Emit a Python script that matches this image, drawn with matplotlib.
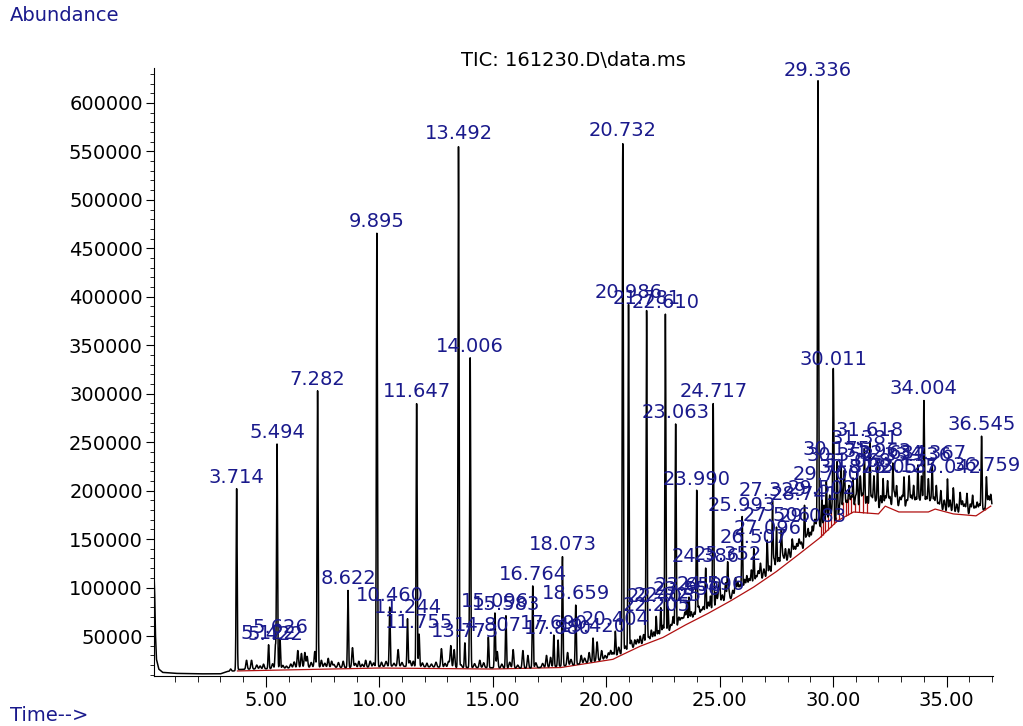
import numpy as np
import matplotlib.pyplot as plt
from matplotlib.ticker import MultipleLocator, FormatStrFormatter

# background level of the TIC trace (min, abundance)
bg_t = [0.07, 0.10, 0.13, 0.18, 0.28, 0.45, 1.0, 2.0, 3.0, 3.3, 3.6, 3.8, 4.5,
        5.5, 6.5, 7.5, 8.5, 9.5, 10.5, 11.5, 12.5, 13.5, 14.5, 15.5, 16.5,
        17.5, 18.5, 19.5, 20.2, 20.8, 21.3, 22.0, 22.5, 23.0, 23.5, 24.0,
        24.5, 25.0, 25.5, 26.0, 26.5, 27.0, 27.5, 28.0, 28.5, 29.0, 29.5,
        30.0, 30.5, 31.0, 31.5, 32.0, 32.5, 33.0, 33.5, 34.0, 34.5, 35.0,
        35.5, 36.0, 36.4, 36.7, 37.0]
bg_a = [116000, 95000, 55000, 26000, 16000, 12500, 11500, 11000, 11000, 13500,
        14000, 15500, 16000, 16500, 17500, 18000, 17500, 18000, 19000, 18500,
        18000, 17500, 17500, 17000, 17000, 18000, 20000, 24000, 27000, 33000,
        39000, 44000, 50000, 57000, 63000, 69000, 75000, 82000, 88000, 95000,
        102000, 110000, 118000, 127000, 136000, 145000, 156000, 167000,
        178000, 183000, 183000, 180000, 184000, 182000, 181000, 181000,
        179000, 178000, 176000, 174000, 175000, 182000, 183000]

# labelled peaks: retention time (min) and apex abundance
peak_rt = [3.714, 5.122, 5.422, 5.494, 5.626, 7.282, 8.622, 9.895, 10.460,
           11.244, 11.647, 11.755, 13.492, 13.773, 14.006, 14.807, 15.096,
           15.583, 16.764, 17.690, 17.880, 18.073, 18.659, 19.420, 20.404,
           20.732, 20.986, 21.781, 22.205, 22.405, 22.610, 22.725, 23.063,
           23.556, 23.650, 23.990, 24.386, 24.596, 24.717, 25.352, 25.993,
           26.507, 27.096, 27.329, 27.506, 28.741, 29.083, 29.336, 29.502,
           29.700, 30.011, 30.175, 30.352, 30.878, 31.068, 31.381, 31.618,
           31.963, 32.205, 32.634, 33.127, 33.736, 34.004, 34.367, 35.042,
           36.545, 36.759]
peak_h = [202000, 41000, 40000, 248000, 47000, 303000, 97000, 466000, 80000,
          68000, 290000, 52000, 557000, 43000, 337000, 49000, 74000,
          71000, 102000, 51000, 46000, 132000, 82000, 48000, 55000,
          560000, 392000, 386000, 70000, 79000, 382000, 80000, 269000,
          86000, 90000, 200000, 120000, 91000, 290000, 122000, 173000,
          140000, 149000, 188000, 162000, 184000, 161000, 622000, 190000,
          205000, 323000, 230000, 224000, 212000, 218000, 242000, 250000,
          228000, 212000, 226000, 213000, 224000, 293000, 226000, 212000,
          256000, 214000]

# small unlabelled peaks (apex abundance)
minor_rt = [3.45, 4.15, 4.37, 4.9, 5.91, 6.41, 6.57, 6.72, 6.82, 7.16, 7.45,
            7.75, 7.9, 8.41, 8.82, 9.1, 9.4, 10.1, 10.83, 11.5, 12.1, 12.74,
            13.15, 13.30, 14.43, 15.2, 15.9, 16.33, 16.55, 17.37, 17.55,
            18.3, 18.9, 19.25, 19.6, 19.8, 20.2, 21.26, 21.5, 21.99, 22.95,
            23.38, 24.19, 24.85, 25.0, 25.26, 25.7, 26.2, 26.4, 26.8, 27.72,
            27.9, 28.2, 28.4, 28.9, 29.2, 29.6, 29.85, 30.5, 30.7, 31.2,
            31.8, 32.4, 32.8, 33.35, 33.55, 33.9, 34.2, 34.55, 34.75, 35.3,
            35.6, 35.9, 36.15, 36.95]
minor_h = [16000, 25000, 25000, 21000, 19000, 35000, 32000, 33000, 29000,
           34000, 25000, 27000, 24000, 24000, 38000, 24000, 25000, 23000,
           36000, 24000, 22000, 37000, 40000, 36000, 25000, 34000, 36000,
           35000, 30000, 30000, 28000, 33000, 30000, 33000, 44000, 35000,
           35000, 46000, 50000, 56000, 70000, 68000, 77000, 95000, 101000,
           105000, 110000, 112000, 118000, 125000, 159000, 140000, 150000,
           145000, 160000, 165000, 185000, 195000, 215000, 205000, 215000,
           215000, 210000, 205000, 215000, 205000, 215000, 212000, 205000,
           200000, 203000, 198000, 197000, 195000, 196000]

# noise wiggles: time (min) and rise above the background
ripple_rt = [4.6, 4.75, 5.3, 5.75, 6.1, 6.25, 7.0, 7.6, 8.0, 8.2, 8.95, 9.25,
             9.6, 9.75, 10.3, 10.65, 11.0, 11.35, 11.9, 12.3, 12.5, 12.9,
             13.05, 13.6, 14.2, 14.6, 15.4, 15.75, 16.1, 16.9, 17.2, 18.45,
             19.05, 19.95, 20.1, 20.3, 20.55, 20.85, 21.1, 21.38, 21.65,
             21.88, 22.1, 22.3, 22.5, 22.85, 23.2, 23.3, 23.47, 23.75, 23.88,
             24.08, 24.28, 24.5, 24.95, 25.12, 25.4, 25.58, 25.8, 25.9, 26.1,
             26.3, 26.6, 26.7, 26.95, 27.2, 27.4, 27.6, 27.8, 28.05, 28.3,
             28.5, 28.6, 28.82, 29.0, 29.15, 29.27, 29.42, 29.75, 29.95,
             30.3, 30.45, 30.6, 30.8, 31.0, 31.3, 31.5, 31.7, 31.9, 32.1,
             32.3, 32.5, 32.7, 32.95, 33.05, 33.25, 33.45, 33.65, 33.8, 34.1,
             34.3, 34.45, 34.65, 34.9, 35.15, 35.45, 35.7, 35.8, 36.05,
             36.25, 36.35, 36.45, 36.85]
ripple_dh = [4000, 3000, 5000, 3000, 4000, 6000, 5000, 4000, 3000, 5000, 4000,
             3000, 6000, 4000, 5000, 3000, 4000, 6000, 4000, 3000, 5000, 4000,
             6000, 3000, 4000, 5000, 4000, 6000, 3000, 5000, 4000, 6000, 5000,
             4000, 6000, 5000, 8000, 6000, 9000, 7000, 10000, 6000, 9000,
             8000, 11000, 7000, 10000, 8000, 12000, 9000, 7000, 11000, 8000,
             10000, 12000, 9000, 11000, 8000, 13000, 9000, 12000, 10000, 8000,
             12000, 10000, 9000, 13000, 11000, 8000, 12000, 10000, 14000,
             9000, 11000, 12000, 10000, 13000, 9000, 12000, 14000, 11000,
             15000, 10000, 13000, 12000, 14000, 11000, 13000, 9000, 14000,
             12000, 10000, 15000, 11000, 13000, 9000, 14000, 12000, 10000,
             13000, 11000, 14000, 9000, 12000, 13000, 10000, 14000, 11000,
             12000, 9000, 13000, 10000, 12000]

# integration baseline (red) and drop lines
base_t = [3.75, 10.0, 15.0, 18.0, 20.3, 20.6, 21.5, 22.5, 23.5, 24.5, 25.5,
          26.5, 27.5, 28.5, 29.4, 30.2, 30.9, 32.0, 32.3, 32.9, 34.2, 34.5,
          35.3, 36.3, 36.95]
base_a = [14000, 17000, 16000, 17500, 26000, 29500, 39500, 48500, 61500,
          73500, 86500, 100500, 116500, 134500, 151000, 169000, 178000,
          176000, 184000, 178000, 178000, 181000, 176000, 174000, 184000]
drop_t = [29.45, 29.56, 29.66, 29.78, 29.9, 30.06, 30.12, 30.25, 30.42,
          30.55, 30.66, 30.8, 30.95, 31.15, 31.3, 31.5, 36.7]

label_color = "#1a1a8c"


def build_trace(t):
    """Background plus Gaussian-shaped peaks at the listed apexes."""
    y = np.interp(t, bg_t, bg_a)
    bumps = ([(r, a - np.interp(r, bg_t, bg_a), 0.022) for r, a in zip(peak_rt, peak_h)]
             + [(r, a - np.interp(r, bg_t, bg_a), 0.03) for r, a in zip(minor_rt, minor_h)]
             + [(r, d, 0.035) for r, d in zip(ripple_rt, ripple_dh)])
    for rt, dh, w in bumps:
        y = y + dh * np.exp(-0.5 * ((t - rt) / w) ** 2)
    return y


t = np.arange(0.07, 37.0, 0.004)
tic = build_trace(t)

fig = plt.figure(figsize=(10.23, 7.26), dpi=100)
ax = fig.add_axes([0.1505, 0.0689, 0.8202, 0.8374])

ax.plot(base_t, base_a, color="#b01010", lw=0.9, zorder=1)
drop_top = np.interp(drop_t, t, tic)
ax.vlines(drop_t, np.interp(drop_t, base_t, base_a), drop_top,
          color="#b01010", lw=0.9, zorder=1)
ax.plot(t, tic, color="black", lw=1.1, zorder=2)

for rt, h in zip(peak_rt, peak_h):
    ax.annotate(f"{rt:.3f}", (rt, h), xytext=(0, 1.5), textcoords="offset points",
                ha="center", va="bottom", color=label_color, fontsize=14,
                annotation_clip=False, zorder=3)

ax.set_xlim(0.07, 37.05)
ax.set_ylim(8800, 636000)
ax.spines["top"].set_visible(False)
ax.spines["right"].set_visible(False)
ax.xaxis.set_major_locator(MultipleLocator(5))
ax.xaxis.set_minor_locator(MultipleLocator(1))
ax.xaxis.set_major_formatter(FormatStrFormatter("%.2f"))
ax.yaxis.set_major_locator(MultipleLocator(50000))
ax.yaxis.set_minor_locator(MultipleLocator(10000))
ax.tick_params(axis="x", which="major", length=8, labelsize=14, pad=3)
ax.tick_params(axis="x", which="minor", length=4)
ax.tick_params(axis="y", which="major", length=6, labelsize=14, pad=2)
ax.tick_params(axis="y", which="minor", length=3)

fig.text(0.561, 0.917, "TIC: 161230.D\\data.ms", ha="center", va="center",
         fontsize=14, color="black")
fig.text(0.0098, 0.979, "Abundance", ha="left", va="center", fontsize=14,
         color=label_color)
fig.text(0.0098, 0.015, "Time-->", ha="left", va="center", fontsize=14,
         color=label_color)

fig.savefig("out.png", dpi=100)
